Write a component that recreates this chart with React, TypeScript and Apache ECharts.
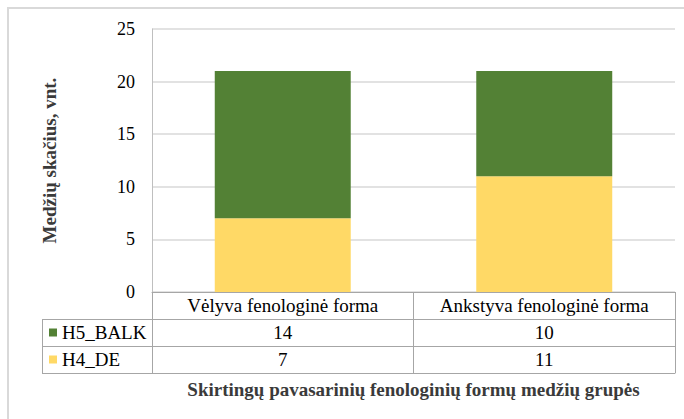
import React, { useEffect, useRef } from "react";
import * as echarts from "echarts";

const categories = ["Vėlyva fenologinė forma", "Ankstyva fenologinė forma"];
const seriesNames = ["H5_BALK", "H4_DE"];
const h5Balk = [14, 10];
const h4De = [7, 11];
const yTicks = { min: 0, max: 25, interval: 5 };
const yTitle = "Medžių skačius, vnt.";
const xTitle = "Skirtingų pavasarinių fenologinių formų medžių grupės";

const GREEN = "#538135";
const YELLOW = "#FFD966";
const TABLE = "#a6a6a6";
const FONT = "Liberation Serif";
const ROW = 27;
const GRID_LEFT = 152;

export default function App() {
  const ref = useRef<HTMLDivElement>(null);
  useEffect(() => {
    if (!ref.current) return;
    const chart = echarts.init(ref.current, undefined, { renderer: "svg" });
    const tableAxis = (offset: number) => ({
      type: "category",
      data: categories,
      position: "bottom",
      offset,
      axisLine: { show: true, lineStyle: { color: TABLE, width: 1 } },
      axisTick: { show: true, alignWithLabel: false, length: ROW, lineStyle: { color: TABLE, width: 1 } },
      axisLabel: { show: false },
      splitLine: { show: false },
    });
    chart.setOption({
      animation: false,
      textStyle: { fontFamily: FONT },
      grid: { left: GRID_LEFT, right: 9, top: 29, bottom: 127, containLabel: false },
      legend: {
        data: [seriesNames[0], seriesNames[1]],
        orient: "vertical",
        left: 49,
        top: 319,
        padding: 0,
        itemGap: 0,
        itemWidth: 8,
        itemHeight: 8,
        icon: "rect",
        selectedMode: false,
        textStyle: { fontSize: 19, lineHeight: 27, fontFamily: FONT, color: "#000" },
      },
      xAxis: [
        tableAxis(0),
        tableAxis(ROW),
        tableAxis(ROW * 2),
        {
          type: "category",
          data: categories,
          position: "bottom",
          offset: ROW * 3,
          axisLine: { show: true, lineStyle: { color: TABLE, width: 1 } },
          axisTick: { show: false },
          axisLabel: { show: false },
          splitLine: { show: false },
          name: xTitle,
          nameLocation: "middle",
          nameGap: 7,
          nameTextStyle: {
            fontSize: 19,
            fontWeight: "bold",
            fontFamily: FONT,
            color: "#3a3a3a",
            verticalAlign: "top",
          },
        },
      ],
      yAxis: {
        type: "value",
        min: yTicks.min,
        max: yTicks.max,
        interval: yTicks.interval,
        axisLine: { show: true, lineStyle: { color: "#bfbfbf" } },
        axisTick: { show: false },
        splitLine: { show: true, lineStyle: { color: "#d9d9d9", width: 1.5 } },
        axisLabel: { show: false },
        name: yTitle,
        nameLocation: "middle",
        nameGap: 93,
        nameRotate: 90,
        nameTextStyle: { fontSize: 19, fontWeight: "bold", fontFamily: FONT, color: "#3a3a3a" },
      },
      series: [
        {
          name: seriesNames[1],
          type: "bar",
          stack: "total",
          data: h4De,
          barWidth: "52%",
          itemStyle: { color: YELLOW },
        },
        {
          name: seriesNames[0],
          type: "bar",
          stack: "total",
          data: h5Balk,
          barWidth: "52%",
          itemStyle: { color: GREEN },
        },
      ],
    });

    const graphics: any[] = [
      {
        type: "rect",
        silent: true,
        shape: { x: 8, y: 8, width: 690, height: 430 },
        style: { fill: "none", stroke: "#d9d9d9", lineWidth: 2 },
      },
      { type: "line", shape: { x1: 42, y1: 319.5, x2: 152, y2: 319.5 }, style: { stroke: TABLE, lineWidth: 1 } },
      { type: "line", shape: { x1: 42, y1: 346.5, x2: 152, y2: 346.5 }, style: { stroke: TABLE, lineWidth: 1 } },
      { type: "line", shape: { x1: 42, y1: 373.5, x2: 152, y2: 373.5 }, style: { stroke: TABLE, lineWidth: 1 } },
      { type: "line", shape: { x1: 42.5, y1: 319, x2: 42.5, y2: 374 }, style: { stroke: TABLE, lineWidth: 1 } },
    ];

    try {
      const zeroY = chart.convertToPixel({ yAxisIndex: 0 } as any, yTicks.min) as number;
      for (let v = yTicks.min; v <= yTicks.max; v += yTicks.interval) {
        const y = chart.convertToPixel({ yAxisIndex: 0 } as any, v) as number;
        graphics.push({
          type: "text",
          x: GRID_LEFT - 17,
          y,
          z: 100,
          silent: true,
          style: {
            text: String(v),
            fontFamily: FONT,
            fontSize: 18,
            fill: "#000",
            align: "right",
            verticalAlign: "middle",
          },
        });
      }
      const rows: string[][] = [
        categories,
        h5Balk.map((d) => String(d)),
        h4De.map((d) => String(d)),
      ];
      categories.forEach((c, i) => {
        const cx = chart.convertToPixel({ xAxisIndex: 0 } as any, c) as number;
        rows.forEach((row, r) => {
          graphics.push({
            type: "text",
            x: cx,
            y: zeroY + ROW * r + ROW / 2,
            z: 100,
            silent: true,
            style: {
              text: row[i],
              fontFamily: FONT,
              fontSize: 19,
              fill: "#000",
              align: "center",
              verticalAlign: "middle",
            },
          });
        });
      });
    } catch (e) {
      // ignore
    }
    chart.setOption({ graphic: graphics });
    return () => chart.dispose();
  }, []);
  return (
    <div
      ref={ref}
      style={{ position: "absolute", left: 0, top: 0, width: 684, height: 419, background: "#fff" }}
    />
  );
}
